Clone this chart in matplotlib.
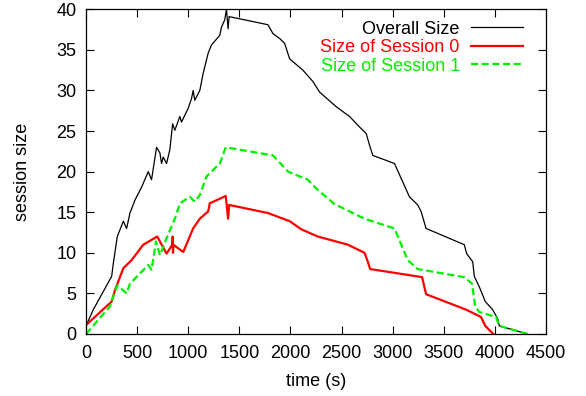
import numpy as np
import matplotlib
matplotlib.use('Agg')
import matplotlib.pyplot as plt

plt.rcParams['font.family'] = ['Liberation Sans', 'DejaVu Sans']

# overall size
t_all = [0, 71, 251, 267, 306, 365, 397, 430, 479, 544, 609, 641, 690, 723, 739, 755,
         788, 820, 837, 847, 869, 918, 934, 999, 1032, 1048, 1064, 1113, 1146, 1195,
         1227, 1309, 1325, 1357, 1374, 1390, 1400, 1780, 1829, 1895, 1943, 1992, 2122,
         2220, 2285, 2448, 2578, 2676, 2741, 2773, 2806, 3018, 3164, 3245, 3278, 3327,
         3701, 3724, 3783, 3799, 3848, 3906, 3978, 4027, 4043, 4320]
v_all = [1.0, 3.0, 7.1, 8.7, 12.0, 13.9, 13.0, 14.9, 16.5, 18.1, 20.0, 19.0, 23.0, 22.3,
         21.0, 21.8, 21.0, 22.7, 24.7, 25.9, 25.1, 26.8, 26.1, 27.8, 29.0, 30.0, 28.8,
         30.0, 32.1, 34.6, 35.6, 36.8, 37.8, 38.7, 40.0, 37.6, 39.1, 38.1, 37.0, 36.4,
         35.8, 33.9, 32.5, 31.1, 29.8, 28.0, 26.8, 25.5, 24.7, 23.3, 22.0, 21.0, 16.9,
         15.9, 15.1, 13.0, 11.0, 9.9, 8.9, 7.1, 5.8, 4.0, 3.0, 1.9, 1.0, 0.0]

# session 0
t_s0 = [0, 251, 283, 365, 446, 560, 697, 788, 845, 848, 851, 854, 951, 1048, 1113, 1195,
        1211, 1367, 1390, 1400, 1780, 1992, 2106, 2269, 2562, 2725, 2757, 2780, 3288,
        3327, 3718, 3864, 3906, 3984]
v_s0 = [1.1, 4.0, 5.4, 8.1, 9.1, 11.0, 12.0, 9.9, 11.0, 12.0, 10.0, 11.0, 10.1, 13.0,
        14.2, 15.1, 16.1, 17.0, 14.2, 15.9, 14.9, 13.9, 12.9, 12.0, 11.0, 10.0, 8.9, 8.0,
        7.0, 4.9, 3.0, 2.1, 1.0, 0.0]

# session 1
t_s1 = [0, 234, 306, 397, 430, 609, 641, 684, 723, 788, 869, 918, 1016, 1064, 1113, 1178,
        1309, 1367, 1829, 1976, 2171, 2253, 2432, 2725, 3018, 3147, 3245, 3701, 3776,
        3808, 3848, 4011, 4043, 4320]
v_s1 = [0.0, 3.4, 6.0, 5.0, 6.2, 8.5, 7.9, 11.4, 9.7, 11.8, 14.2, 16.1, 16.9, 16.3, 17.1,
        19.4, 21.0, 23.0, 22.0, 20.0, 19.0, 17.9, 16.0, 14.2, 13.0, 9.1, 8.0, 7.0, 6.2,
        3.4, 2.7, 2.1, 1.0, 0.0]

fs = 13

fig = plt.figure(figsize=(5.86, 3.96), dpi=100)
ax = fig.add_axes([0.1468, 0.1566, 0.7849, 0.8199])

ax.plot(t_all, v_all, color='black', lw=0.9, label='Overall Size')
ax.plot(t_s0, v_s0, color='#ff0000', lw=1.6, label='Size of Session 0')
ax.plot(t_s1, v_s1, color='#00f000', lw=1.6, linestyle=(0, (3.2, 1.6)),
        label='Size of Session 1')

ax.set_xlim(0, 4500)
ax.set_ylim(0, 40)
ax.set_xticks(np.arange(0, 4501, 500))
ax.set_yticks(np.arange(0, 41, 5))
ax.tick_params(direction='in', length=6, width=0.8, top=True, right=True,
               labelsize=fs)
ax.tick_params(axis='x', pad=8)
ax.tick_params(axis='y', pad=7)
for s in ax.spines.values():
    s.set_linewidth(0.9)

ax.set_xlabel('time (s)', fontsize=fs, labelpad=8)
ax.set_ylabel('session size', fontsize=fs, labelpad=18)

ax.legend(loc='upper right', bbox_to_anchor=(0.95, 0.965), frameon=False,
          markerfirst=False, labelcolor='linecolor', fontsize=fs,
          handlelength=2.9, handletextpad=0.6, labelspacing=0.08,
          borderpad=0, borderaxespad=0)

fig.savefig('out.png', dpi=100)
